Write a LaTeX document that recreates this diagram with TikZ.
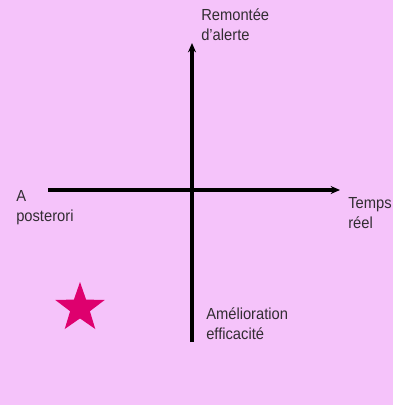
\documentclass[tikz,border=0pt]{standalone}
\usepackage{fontspec}
\setmainfont[FakeStretch=0.92]{Liberation Sans}
\usetikzlibrary{shapes.geometric,arrows.meta}
\definecolor{bg}{RGB}{245,195,250}
\definecolor{starc}{RGB}{222,0,110}
\definecolor{txt}{RGB}{50,45,50}
\begin{document}
\begin{tikzpicture}[x=0.75pt,y=-0.75pt,
  axis/.style={line width=2.5pt,-{Stealth[length=7pt,width=6pt]}},
  lbl/.style={anchor=north west,align=left,text=txt,font=\fontsize{12pt}{15pt}\selectfont,inner sep=0pt}]
\fill[bg] (0,0) rectangle (393,405);
\useasboundingbox (0,0) rectangle (393,405);
\coordinate (vb) at (192,342);
\coordinate (vt) at (192,43);
\coordinate (hl) at (48,190);
\coordinate (hr) at (340,190);
\draw[axis] (vb) -- (vt);
\draw[axis] (hl) -- (hr);
\node[lbl] (top) at (201,8) {Remontée\\d\symbol{39}alerte};
\node[lbl] (left) at (16,190) {A\\posterori};
\node[lbl] (right) at (348,197) {Temps\\réel};
\node[lbl] (bottom) at (206,307) {Amélioration\\efficacité};
\node[star,star points=5,star point ratio=2.5,fill=starc,minimum size=52*0.75pt,inner sep=0pt] (st) at (80,308) {};
\end{tikzpicture}
\end{document}
